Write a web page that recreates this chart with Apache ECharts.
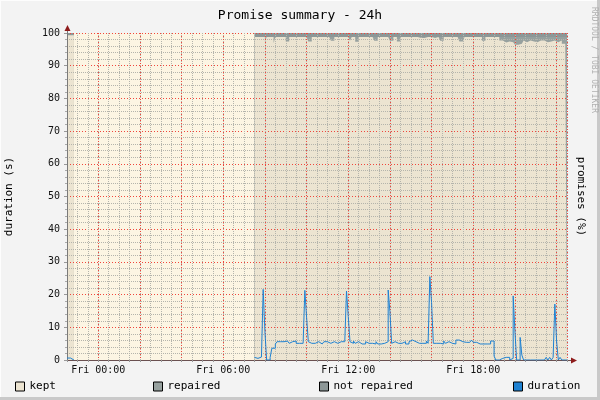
<!DOCTYPE html>
<html>
<head>
<meta charset="utf-8">
<script src="https://cdn.jsdelivr.net/npm/echarts@6/dist/echarts.min.js"></script>
<style>
html,body{margin:0;padding:0;background:#f3f3f3;}
#c{width:600px;height:400px;}
</style>
</head>
<body>
<div id="c"></div>
<script>
// ---- time structure (hours relative to Fri 00:00), 5-minute samples ----
const earlyStart = -1.5;   // Thu 22:30
const dayStart = 7.5;      // Fri 07:30
const stepHours = 5 / 60;

// ---- x axis: tick labels; half-hour grid slots (major line every 4th slot boundary) ----
const labelHours = [0, 6, 12, 18];
const labelTexts = ['Fri 00:00', 'Fri 06:00', 'Fri 12:00', 'Fri 18:00'];
const halfHourSlots = 48;

// ---- legend / series names ----
const seriesNames = ['kept', 'repaired', 'not repaired', 'duration'];

// ---- early segment (Thu 22:30 - 22:45) ----
const keptEarly = [99.3, 99.3, 99.3, 99.3];
const repairedEarly = [0, 0, 0, 0];
const notRepairedEarly = [0.7, 0.7, 0.7, 0.7];
const durationEarly = [0.6, 0.6, 0.3, 0];

// ---- day segment (Fri 07:30 - 22:30), one row per hour ----
const durationDay = [
  0.8,0.5,0.5,0.9,0.9,21.6,8.7,0,0,0.8,3.6,3.6,
  4.9,5.6,5.6,5.1,5.6,5.1,5.8,5.8,5.1,5.6,5.1,5.8,
  5.1,5.1,5.6,5.1,5.1,21.3,13.1,5.6,5.1,5.6,5.1,5.1,
  5.6,5.1,4.9,4.9,5.6,5.6,5.1,5.1,5.1,5.6,5.1,5.1,
  5.1,5.6,5.1,5.6,5.1,21.1,13.3,5.6,5.1,5.8,5.1,5.6,
  5.1,4.9,4.9,4.9,5.6,5.1,5.1,5.1,5.1,4.9,5.6,4.9,
  4.9,4.9,5.1,5.1,5.6,21.4,14.8,5.1,5.6,5.6,5.1,5.1,
  5.1,4.9,5.6,4.9,4.9,5.6,6.1,6.1,5.6,5.1,5.1,5.1,
  5.1,5.1,5.1,5.8,5.1,25.5,17.5,5.1,5.1,5.6,5.1,5.1,
  4.9,5.8,5.1,5.6,5.1,5.1,5.1,4.9,6.1,6.1,6.1,5.6,
  5.4,5.4,5.4,5.4,5.4,6.1,5.4,5.4,5.4,4.9,4.9,4.9,
  4.9,4.9,4.9,4.9,5.8,5.8,1.2,0,0,0.5,0.5,0,
  0.8,0.5,0.8,0,0.5,19.6,8.9,0,0,6.9,1.5,0,
  0,0,0,0,0,0.5,0,0,0,0,0,0,
  0.8,0,0.8,0,0.8,17.1,5.8,0,0.8,0,0,0,
  0
];

const repairedDay = [
  0,0,0,0,0,0,1.4,0,0,0,0,1.9,
  0,0,0,0,0,0,1.4,1.4,0,0,0,0,
  0,0,0,0,0,0,0,1.4,1.4,0,0,0,
  0,0,0,0,0,0,0,0,1.2,1.2,0,0,
  0,0,0,0,0,0,0,1.2,0,0,1.5,1.5,
  0,0,0,0,0,0,0,0,0,1.2,1.2,0,
  0,0,0,0,0,0,1.2,1.2,0,0,1.4,1.4,
  0,0,0,0,0,0,0,0,0,0,0,0.3,
  0.3,0.3,0,0,0,0,0,0.3,0,0,0,1.2,
  1.2,0,0,0,0,0,0,0,0,0,1.4,1.4,
  1.4,0,0,0,0,0,0,0,0,0,0,1.2,
  1.2,0,0,0,0,0,0,0,0,1.1,1.1,1.1,
  1.7,1.7,1.4,1.1,1.6,1.6,2.4,2.4,2.1,2.1,1.6,1.1,
  1.6,1.6,1.1,1.4,1.4,1.1,1.6,1.6,1.1,1.6,1.1,1.6,
  1.6,1.1,1.4,1.6,1.1,1.1,1.6,1.6,1.1,2.1,2.1,2.1,
  2.1
];

const notRepairedDay = [
  1.2,1.2,1.2,1.2,1.2,1.2,1.2,1.2,1.2,1.2,1.2,1.2,
  1.2,1.2,1.2,1.2,1.2,1.2,1.2,1.2,1.2,1.2,1.2,1.2,
  1.2,1.2,1.2,1.2,1.2,1.2,1.2,1.2,1.2,1.2,1.2,1.2,
  1.2,1.2,1.2,1.2,1.2,1.2,1.2,1.2,1.2,1.2,1.2,1.2,
  1.2,1.2,1.2,1.2,1.2,1.2,1.2,1.2,1.2,1.2,1.2,1.2,
  1.2,1.2,1.2,1.2,1.2,1.2,1.2,1.2,1.2,1.2,1.2,1.2,
  1.2,1.2,1.2,1.2,1.2,1.2,1.2,1.2,1.2,1.2,1.2,1.2,
  1.2,1.2,1.2,1.2,1.2,1.2,1.2,1.2,1.2,1.2,1.2,1.2,
  1.2,1.2,1.2,1.2,1.2,1.2,1.2,1.2,1.2,1.2,1.2,1.2,
  1.2,1.2,1.2,1.2,1.2,1.2,1.2,1.2,1.2,1.2,1.2,1.2,
  1.2,1.2,1.2,1.2,1.2,1.2,1.2,1.2,1.2,1.2,1.2,1.2,
  1.2,1.2,1.2,1.2,1.2,1.2,1.2,1.2,1.2,1.2,1.2,1.2,
  1.2,1.2,1.2,1.2,1.2,1.2,1.2,1.2,1.2,1.2,1.2,1.2,
  1.2,1.2,1.2,1.2,1.2,1.2,1.2,1.2,1.2,1.2,1.2,1.2,
  1.2,1.2,1.2,1.2,1.2,1.2,1.2,1.2,1.2,1.2,1.2,1.2,
  1.2
];

const keptDay = [
  98.8,98.8,98.8,98.8,98.8,98.8,97.4,98.8,98.8,98.8,98.8,96.9,
  98.8,98.8,98.8,98.8,98.8,98.8,97.4,97.4,98.8,98.8,98.8,98.8,
  98.8,98.8,98.8,98.8,98.8,98.8,98.8,97.4,97.4,98.8,98.8,98.8,
  98.8,98.8,98.8,98.8,98.8,98.8,98.8,98.8,97.6,97.6,98.8,98.8,
  98.8,98.8,98.8,98.8,98.8,98.8,98.8,97.6,98.8,98.8,97.3,97.3,
  98.8,98.8,98.8,98.8,98.8,98.8,98.8,98.8,98.8,97.6,97.6,98.8,
  98.8,98.8,98.8,98.8,98.8,98.8,97.6,97.6,98.8,98.8,97.4,97.4,
  98.8,98.8,98.8,98.8,98.8,98.8,98.8,98.8,98.8,98.8,98.8,98.5,
  98.5,98.5,98.8,98.8,98.8,98.8,98.8,98.5,98.8,98.8,98.8,97.6,
  97.6,98.8,98.8,98.8,98.8,98.8,98.8,98.8,98.8,98.8,97.4,97.4,
  97.4,98.8,98.8,98.8,98.8,98.8,98.8,98.8,98.8,98.8,98.8,97.6,
  97.6,98.8,98.8,98.8,98.8,98.8,98.8,98.8,98.8,97.7,97.7,97.7,
  97.1,97.1,97.4,97.7,97.2,97.2,96.4,96.4,96.7,96.7,97.2,97.7,
  97.2,97.2,97.7,97.4,97.4,97.7,97.2,97.2,97.7,97.2,97.7,97.2,
  97.2,97.7,97.4,97.2,97.7,97.7,97.2,97.2,97.7,96.7,96.7,96.7,
  96.7
];

// ---- styling ----
const F = 'DejaVu Sans Mono';
const KEPT = '#ece4d1';
const REP = '#97a19f';
const NOTREP = '#8d9797';
const BLUE = '#1f82d2';
const CANVAS = '#fcf5e3';
const MGRID = 'rgb(240,70,60)';
const GRID = 'rgb(180,180,172)';

// step-area stacking (RRD style): each layer is drawn from 0 up to its cumulative top
function stackSum(arrays) {
  return arrays[0].map((_, i) => arrays.reduce((s, a) => s + a[i], 0));
}
function build(early, day) {
  const pts = early.map((v, i) => [earlyStart + i * stepHours, v]);
  pts.push([earlyStart + early.length * stepHours, null]);
  day.forEach((v, i) => pts.push([dayStart + i * stepHours, v]));
  return pts;
}
function areaSeries(name, early, day, color) {
  return {
    name: name, type: 'line', step: 'end',
    data: build(early, day), symbol: 'none', showSymbol: false,
    lineStyle: { width: 0, color: color }, itemStyle: { color: color },
    areaStyle: { color: color, opacity: 1, origin: 'start' }, z: 1, silent: true
  };
}

const topEarly = stackSum([keptEarly, repairedEarly, notRepairedEarly]);
const topDay = stackSum([keptDay, repairedDay, notRepairedDay]);
const midEarly = stackSum([keptEarly, repairedEarly]);
const midDay = stackSum([keptDay, repairedDay]);
const slotNames = Array.from({ length: halfHourSlots }, (_, i) => 's' + i);

const legendCommon = {
  top: 381, itemWidth: 9, itemHeight: 9, icon: 'rect', padding: 0, itemGap: 0,
  selectedMode: false,
  itemStyle: { borderColor: '#000', borderWidth: 1 },
  textStyle: { fontFamily: F, fontSize: 11, color: '#000' }
};

const dotted = [1, 1];
const majorDots = [1, 2];

const chart = echarts.init(document.getElementById('c'), null, { renderer: 'canvas' });
chart.setOption({
  animation: false,
  backgroundColor: '#f3f3f3',
  title: {
    text: 'Promise summary - 24h', left: 'center', top: 4,
    textStyle: { fontFamily: F, fontSize: 13, fontWeight: 'normal', color: '#000' }
  },
  legend: [
    Object.assign({ data: [seriesNames[0]], left: 15 }, legendCommon),
    Object.assign({ data: [seriesNames[1]], left: 153 }, legendCommon),
    Object.assign({ data: [seriesNames[2]], left: 319 }, legendCommon),
    Object.assign({ data: [seriesNames[3]], left: 513 }, legendCommon)
  ],
  grid: { left: 67, right: 33, top: 33, bottom: 40, show: true, backgroundColor: CANVAS, borderWidth: 0,
          outerBoundsMode: 'none', containLabel: false },
  xAxis: [
    {
      type: 'value', min: -1.5, max: 22.5, interval: 0.5, z: 3,
      axisLine: { show: true, onZero: false, lineStyle: { color: '#6a5050', width: 1 } },
      axisTick: { show: true, length: 2, lineStyle: { color: '#999' } },
      axisLabel: {
        fontFamily: F, fontSize: 10, color: '#111', margin: 5,
        formatter: function (v) {
          const k = labelHours.indexOf(v);
          return k >= 0 ? labelTexts[k] : '';
        }
      },
      splitLine: { show: true, lineStyle: { color: GRID, type: dotted, width: 1, opacity: 1 } }
    },
    {
      type: 'category', data: slotNames, boundaryGap: true, position: 'bottom', z: 4,
      axisLine: { show: false }, axisTick: { show: false }, axisLabel: { show: false },
      splitLine: {
        show: true, interval: function (i) { return i % 4 === 3; },
        lineStyle: { color: MGRID, type: majorDots, width: 1, opacity: 1 }
      }
    }
  ],
  yAxis: [
    {
      type: 'value', min: 0, max: 100, interval: 10, position: 'left', z: 3,
      name: 'duration (s)', nameLocation: 'middle', nameGap: 52, nameRotate: 90,
      nameTextStyle: { fontFamily: F, fontSize: 11, color: '#000' },
      axisLine: { show: true, onZero: false, lineStyle: { color: '#7a7a7a', width: 1 } },
      axisTick: { show: true, length: 3, lineStyle: { color: '#999' } },
      minorTick: { show: true, splitNumber: 5, length: 2, lineStyle: { color: '#aaa' } },
      axisLabel: { fontFamily: F, fontSize: 10, color: '#111', margin: 7 },
      splitLine: { show: true, lineStyle: { color: MGRID, type: majorDots, width: 1, opacity: 1 } },
      minorSplitLine: { show: true, lineStyle: { color: GRID, type: dotted, width: 1, opacity: 1 } }
    },
    {
      type: 'value', min: 0, max: 100, position: 'right',
      name: 'promises (%)', nameLocation: 'middle', nameGap: 8, nameRotate: -90,
      nameTextStyle: { fontFamily: F, fontSize: 11, color: '#000' },
      axisLine: { show: false, onZero: false }, axisTick: { show: false }, axisLabel: { show: false },
      splitLine: { show: false }
    }
  ],
  series: [
    areaSeries(seriesNames[2], topEarly, topDay, NOTREP),
    areaSeries(seriesNames[1], midEarly, midDay, REP),
    areaSeries(seriesNames[0], keptEarly, keptDay, KEPT),
    {
      name: seriesNames[3], type: 'line', step: 'end',
      data: build(durationEarly, durationDay), symbol: 'none', showSymbol: false,
      lineStyle: { color: BLUE, width: 1 }, itemStyle: { color: BLUE }, z: 5, silent: true
    }
  ],
  graphic: [
    { type: 'rect', shape: { x: 0, y: 0, width: 600, height: 1 }, style: { fill: '#fdfdfd' } },
    { type: 'rect', shape: { x: 0, y: 0, width: 1, height: 400 }, style: { fill: '#fdfdfd' } },
    { type: 'rect', shape: { x: 0, y: 397, width: 600, height: 3 }, style: { fill: '#c9c9c9' } },
    { type: 'rect', shape: { x: 597, y: 0, width: 3, height: 400 }, style: { fill: '#c9c9c9' } },
    { type: 'line', shape: { x1: 67.5, y1: 28, x2: 67.5, y2: 33 }, style: { stroke: '#7a7a7a', lineWidth: 1 } },
    { type: 'polygon', shape: { points: [[67.5, 25], [64.5, 31], [70.5, 31]] }, style: { fill: '#8e1b1b' } },
    { type: 'line', shape: { x1: 567, y1: 360.5, x2: 572, y2: 360.5 }, style: { stroke: '#6a5050', lineWidth: 1 } },
    { type: 'polygon', shape: { points: [[577, 360.5], [571, 357.5], [571, 363.5]] }, style: { fill: '#8e1b1b' } },
    {
      type: 'text', x: 594, y: 7, rotation: -Math.PI / 2,
      style: { text: 'RRDTOOL / TOBI OETIKER', fontFamily: F, fontSize: 8, fill: '#b0b0b0', align: 'left', verticalAlign: 'middle' }
    }
  ]
});
</script>
</body>
</html>
